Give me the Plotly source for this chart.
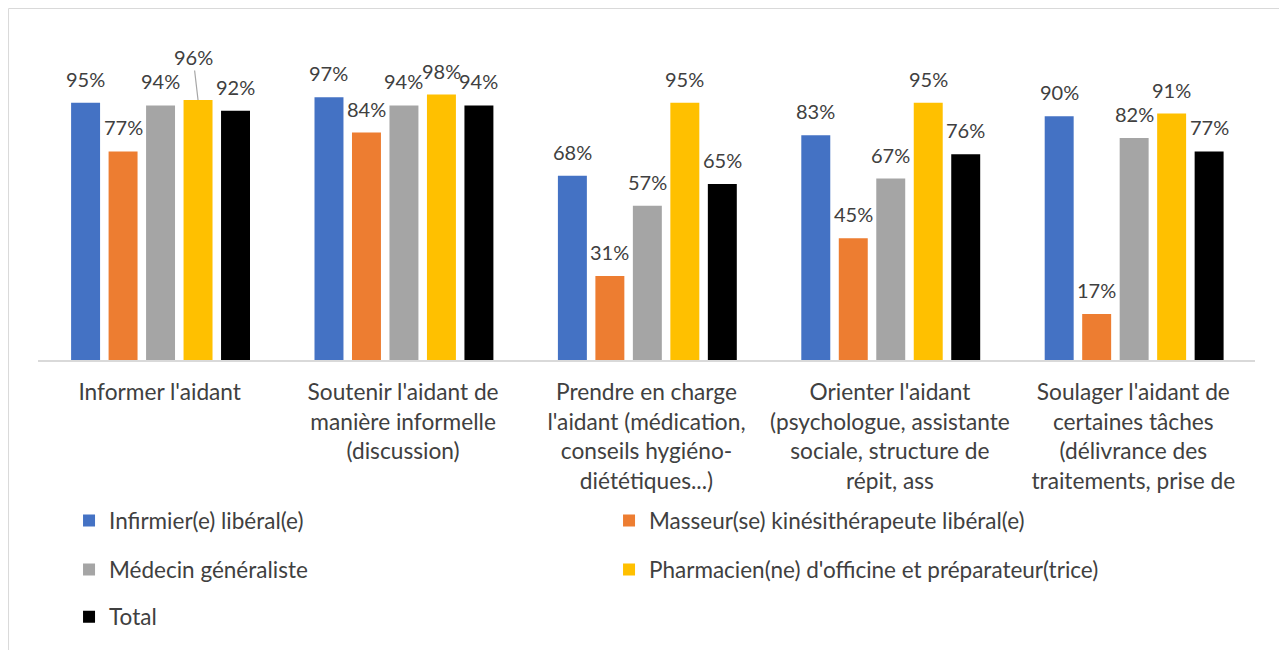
import plotly.graph_objects as go

categories = [
    "Informer l'aidant",
    "Soutenir l'aidant de<br>manière informelle<br>(discussion)",
    "Prendre en charge<br>l'aidant (médication,<br>conseils hygiéno-<br>diététiques...)",
    "Orienter l'aidant<br>(psychologue, assistante<br>sociale, structure de<br>répit, ass",
    "Soulager l'aidant de<br>certaines tâches<br>(délivrance des<br>traitements, prise de",
]
series_names = [
    "Infirmier(e) libéral(e)",
    "Masseur(se) kinésithérapeute libéral(e)",
    "Médecin généraliste",
    "Pharmacien(ne) d'officine et préparateur(trice)",
    "Total",
]
infirmier = [0.95, 0.97, 0.68, 0.83, 0.90]
masseur = [0.77, 0.84, 0.31, 0.45, 0.17]
medecin = [0.94, 0.94, 0.57, 0.67, 0.82]
pharmacien = [0.96, 0.98, 0.95, 0.95, 0.91]
total = [0.92, 0.94, 0.65, 0.76, 0.77]
series_values = [infirmier, masseur, medecin, pharmacien, total]

colors = ["#4472C4", "#ED7D31", "#A5A5A5", "#FFC000", "#000000"]
legend_ids = ["legend", "legend", "legend2", "legend2", "legend3"]

FONT = "Lato"
TXT = "#404040"

# bar geometry in category units
bar_w = 0.119
pitch = 0.154
first_off = -0.364

# special label placement (series index, category index) -> (ax, ay)
leader_labels = {(3, 0): (-5, -43)}

fig = go.Figure()
xs = list(range(len(categories)))
annotations = []
for j, (name, vals, col) in enumerate(zip(series_names, series_values, colors)):
    off = first_off + j * pitch
    fig.add_trace(go.Bar(
        x=xs, y=vals, name=name, marker_color=col, marker_line_width=0,
        width=bar_w, offset=off, legend=legend_ids[j],
        hovertemplate="%{y:.0%}<extra>" + name + "</extra>",
    ))
    for i, v in enumerate(vals):
        cx = i + off + bar_w / 2
        label = f"{round(v*100)}%"
        if (j, i) in leader_labels:
            ax, ay = leader_labels[(j, i)]
            annotations.append(dict(
                x=cx, y=v, xref="x", yref="y", text=label, showarrow=True,
                ax=ax, ay=ay, arrowhead=0, arrowwidth=1.2, arrowcolor="#A6A6A6",
                standoff=0, font=dict(family=FONT, size=20, color=TXT)))
        else:
            annotations.append(dict(
                x=cx, y=v, xref="x", yref="y", text=label, showarrow=False,
                yanchor="middle", yshift=24,
                font=dict(family=FONT, size=20, color=TXT)))

legend_common = dict(orientation="h", xanchor="left", yanchor="middle",
                     entrywidth=495, entrywidthmode="pixels",
                     font=dict(family=FONT, size=22.5, color=TXT),
                     bgcolor="rgba(0,0,0,0)", traceorder="normal")

lx = 0.0255
fig.update_layout(
    width=1279, height=642,
    margin=dict(l=30, r=32, t=27, b=290),
    paper_bgcolor="white", plot_bgcolor="white",
    barmode="overlay",
    xaxis=dict(range=[-0.5, 4.5], tickmode="array", tickvals=xs, ticktext=categories,
               showgrid=False, zeroline=False, showline=True, linecolor="#D9D9D9",
               linewidth=2, ticks="", ticklabelstandoff=11,
               tickfont=dict(family=FONT, size=22.7, color=TXT)),
    yaxis=dict(range=[0, 1.2], visible=False, showgrid=False, zeroline=False),
    annotations=annotations,
    legend=dict(x=lx, y=-0.495, **legend_common),
    legend2=dict(x=lx, y=-0.646, **legend_common),
    legend3=dict(x=lx, y=-0.791, **legend_common),
    shapes=[dict(type="rect", xref="paper", yref="paper",
                 x0=-0.0242, x1=1.0238, y0=-0.95, y1=1.0815,
                 line=dict(color="#D9D9D9", width=1), fillcolor="rgba(0,0,0,0)",
                 layer="below")],
    showlegend=True,
)

fig.write_html("out.html")
